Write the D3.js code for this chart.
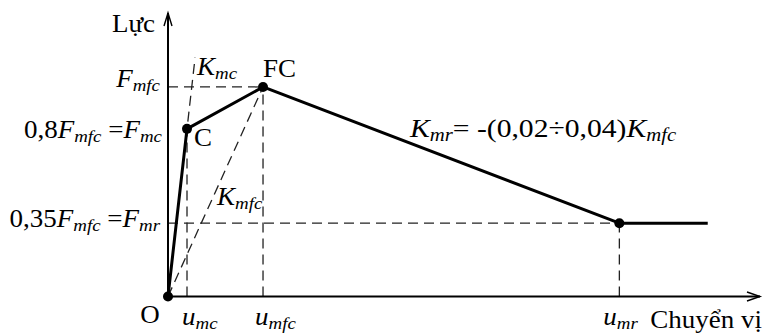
<!DOCTYPE html>
<html>
<head>
<meta charset="utf-8">
<script src="https://cdn.jsdelivr.net/npm/d3@7"></script>
<style>
  body { margin: 0; background: #fff; }
  svg { display: block; }
</style>
</head>
<body>
<svg id="chart" width="776" height="334"></svg>
<script>
// Force–displacement backbone (normalised: u_mfc = 1, F_mfc = 1)
const displacement = [0, 0.2, 1, 4.75, 5.68];
const force        = [0, 0.8, 1, 0.35, 0.35];
const dotIndex     = [0, 1, 2, 3];

// Characteristic displacements on the horizontal axis
const uValues = [0.2, 1, 4.75];
const uSubs   = ["mc", "mfc", "mr"];

// Characteristic forces on the vertical axis
const fValues = [1, 0.8, 0.35];

// Secant stiffness K_mc is drawn past C up to this force level
const kmcTopForce = 1.14;

// Axis extents
const xMax = 6.23;
const yMax = 1.353;

const FONT = "Liberation Serif";

const svg = d3.select("#chart");
const x = d3.scaleLinear().domain([0, xMax]).range([168, 760]);
const y = d3.scaleLinear().domain([0, yMax]).range([296.5, 13]);

const pts = displacement.map((u, i) => ({ u, f: force[i] }));
const line = d3.line().x(d => x(d.u)).y(d => y(d.f));

const dash = "10,6";
const guides = svg.append("g").attr("fill", "none").attr("stroke", "#222")
  .attr("stroke-width", 1.3).attr("stroke-dasharray", dash);

// Horizontal guides F_mfc and F_mr
guides.append("line").attr("x1", x(0)).attr("x2", x(displacement[2]))
  .attr("y1", y(fValues[0])).attr("y2", y(fValues[0]));
guides.append("line").attr("x1", x(0)).attr("x2", x(displacement[3]))
  .attr("y1", y(fValues[2])).attr("y2", y(fValues[2]));

// Vertical guides up to each characteristic point
[[uValues[0], force[1]], [uValues[1], force[2]], [uValues[2], force[3]]].forEach(([u, f]) => {
  guides.append("line").attr("x1", x(u)).attr("x2", x(u)).attr("y1", y(0)).attr("y2", y(f));
});

// Secant lines K_mc and K_mfc from the origin
const kmcTopU = displacement[1] * kmcTopForce / force[1];
guides.append("line").attr("x1", x(0)).attr("y1", y(0))
  .attr("x2", x(kmcTopU)).attr("y2", y(kmcTopForce));
guides.append("line").attr("x1", x(0)).attr("y1", y(0))
  .attr("x2", x(displacement[2])).attr("y2", y(force[2]));

// Axes with open arrowheads
const axes = svg.append("g").attr("stroke", "#000").attr("fill", "none");
axes.append("line").attr("x1", x(0)).attr("x2", x(xMax)).attr("y1", y(0)).attr("y2", y(0)).attr("stroke-width", 1.8);
axes.append("line").attr("x1", x(0)).attr("x2", x(0)).attr("y1", y(0)).attr("y2", y(yMax)).attr("stroke-width", 2);
axes.append("path").attr("stroke-width", 1.4)
  .attr("d", `M${x(xMax) - 13},${y(0) - 4.5} L${x(xMax)},${y(0)} L${x(xMax) - 13},${y(0) + 4.5}`);
axes.append("path").attr("stroke-width", 1.4)
  .attr("d", `M${x(0) - 4},${y(yMax) + 13} L${x(0)},${y(yMax)} L${x(0) + 4},${y(yMax) + 13}`);

// Backbone curve
svg.append("path").datum(pts).attr("d", line)
  .attr("fill", "none").attr("stroke", "#000").attr("stroke-width", 3)
  .attr("stroke-linejoin", "round");

// Characteristic points
svg.selectAll("circle.pt").data(dotIndex.map(i => pts[i])).join("circle")
  .attr("class", "pt").attr("cx", d => x(d.u)).attr("cy", d => y(d.f)).attr("r", 5).attr("fill", "#000");

// Text helper: pieces = [text, italic?, subscript?]
function label(px, py, pieces, anchor = "start", size = 25, sx = 1.08) {
  const g = svg.append("g").attr("transform", `translate(${px},${py}) scale(${sx},1)`);
  const t = g.append("text").attr("text-anchor", anchor).attr("font-size", size)
    .attr("font-family", FONT).attr("fill", "#000");
  let sub = false;
  pieces.forEach(([s, it, sb]) => {
    const ts = t.append("tspan").text(s).attr("font-style", it ? "italic" : "normal");
    if (sb) ts.attr("font-size", size * 0.7);
    if (sb && !sub) ts.attr("dy", 4);
    if (!sb && sub) ts.attr("dy", -4);
    sub = sb;
  });
  return t;
}

// Axis titles
label(x(0) - 13, 32, [["Lực", false, false]], "end");
label(x(xMax) + 2, 328, [["Chuyển vị", false, false]], "end");

// Force labels
label(x(0) - 8, y(fValues[0]), [["F", true, false], ["mfc", true, true]], "end");
label(x(0) - 6, y(fValues[1]) + 9, [["0,8", false, false], ["F", true, false], ["mfc", true, true],
  [" =", false, false], ["F", true, false], ["mc", true, true]], "end");
label(x(0) - 8, y(fValues[2]) + 4, [["0,35", false, false], ["F", true, false], ["mfc", true, true],
  [" =", false, false], ["F", true, false], ["mr", true, true]], "end");

// Displacement labels
label(x(0) - 18, 323, [["O", false, false]], "middle");
const uOffsets = [-5, -8, -16];
uValues.forEach((u, i) => {
  label(x(u) + uOffsets[i], 325, [["u", true, false], [uSubs[i], true, true]], "start");
});

// Point and stiffness labels
label(x(displacement[1]) + 7, y(force[1]) + 17, [["C", false, false]]);
label(x(displacement[2]), y(force[2]) - 10, [["FC", false, false]]);
label(x(kmcTopU) + 2, y(force[2]) - 12, [["K", true, false], ["mc", true, true]]);
label(217, 205, [["K", true, false], ["mfc", true, true]]);
label(410, 137, [["K", true, false], ["mr", true, true], ["= -(0,02÷0,04)", false, false],
  ["K", true, false], ["mfc", true, true]], "start", 26, 1.14);
</script>
</body>
</html>
